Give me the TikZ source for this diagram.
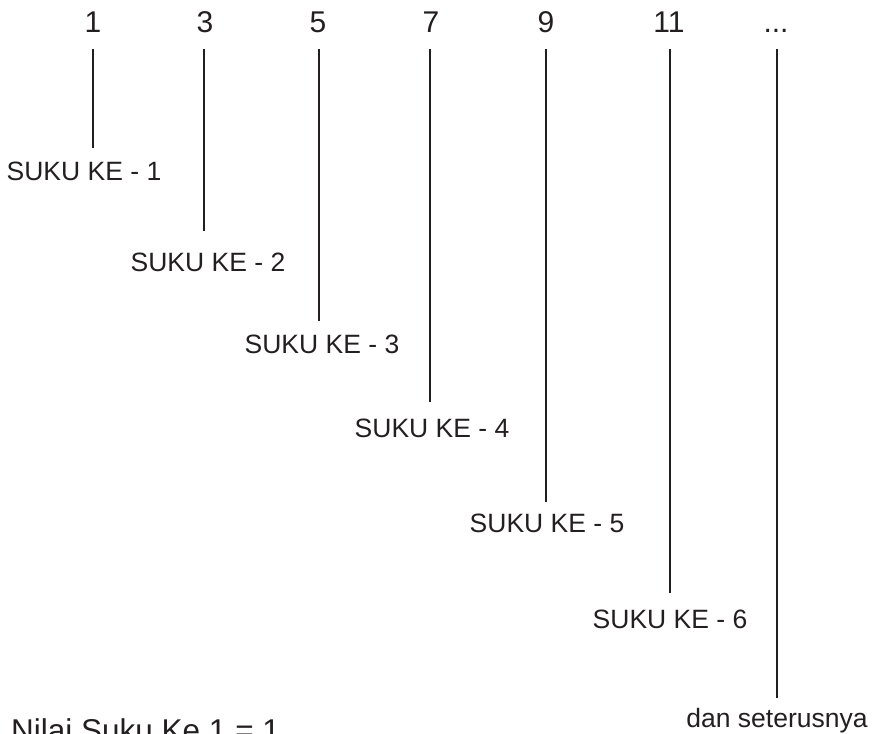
\documentclass[tikz,border=0pt]{standalone}
\usepackage{fontspec}
\setmainfont{Liberation Sans}
\definecolor{ink}{HTML}{231F20}
\begin{document}
\begin{tikzpicture}[x=1pt,y=-1pt,
  num/.style={font=\fontsize{30}{36}\selectfont, anchor=base, inner sep=0pt, outer sep=0pt, text=ink},
  lab/.style={font=\fontsize{26.5}{32}\selectfont, anchor=base, inner sep=0pt, text=ink},
  stem/.style={draw=ink, line width=2.6pt}]
\path[use as bounding box] (0,0) rectangle (872,733);
\clip (0,0) rectangle (872,733);
% numbers
\node[num] (n1) at (93,33) {1};
\node[num] (n2) at (205,33) {3};
\node[num] (n3) at (318,33) {5};
\node[num] (n4) at (431,33) {7};
\node[num] (n5) at (546,33) {9};
\node[num] (n6) at (669,33) {11};
\node[num] (n7) at (776,33) {...};
% labels
\node[lab] (l1) at (84,180) {SUKU KE - 1};
\node[lab] (l2) at (208,271) {SUKU KE - 2};
\node[lab] (l3) at (322,353) {SUKU KE - 3};
\node[lab] (l4) at (432,437) {SUKU KE - 4};
\node[lab] (l5) at (547,532) {SUKU KE - 5};
\node[lab] (l6) at (670,628) {SUKU KE - 6};
\node[lab] (l7) at (777,727) {dan seterusnya};
\node[font=\fontsize{31.5}{38}\selectfont, anchor=base west, inner sep=0pt, text=ink] (title) at (11,741) {Nilai Suku Ke 1 = 1};
% stem ends
\coordinate (t1) at (93,49);  \coordinate (b1) at (93,148);
\coordinate (t2) at (204,49); \coordinate (b2) at (204,231);
\coordinate (t3) at (319,49); \coordinate (b3) at (319,321);
\coordinate (t4) at (430,49); \coordinate (b4) at (430,402);
\coordinate (t5) at (546,49); \coordinate (b5) at (546,502);
\coordinate (t6) at (670,49); \coordinate (b6) at (670,593);
\coordinate (t7) at (777,49); \coordinate (b7) at (777,698);
\foreach \i in {1,...,7} {\draw[stem] (t\i) -- (b\i);}
\end{tikzpicture}
\end{document}
